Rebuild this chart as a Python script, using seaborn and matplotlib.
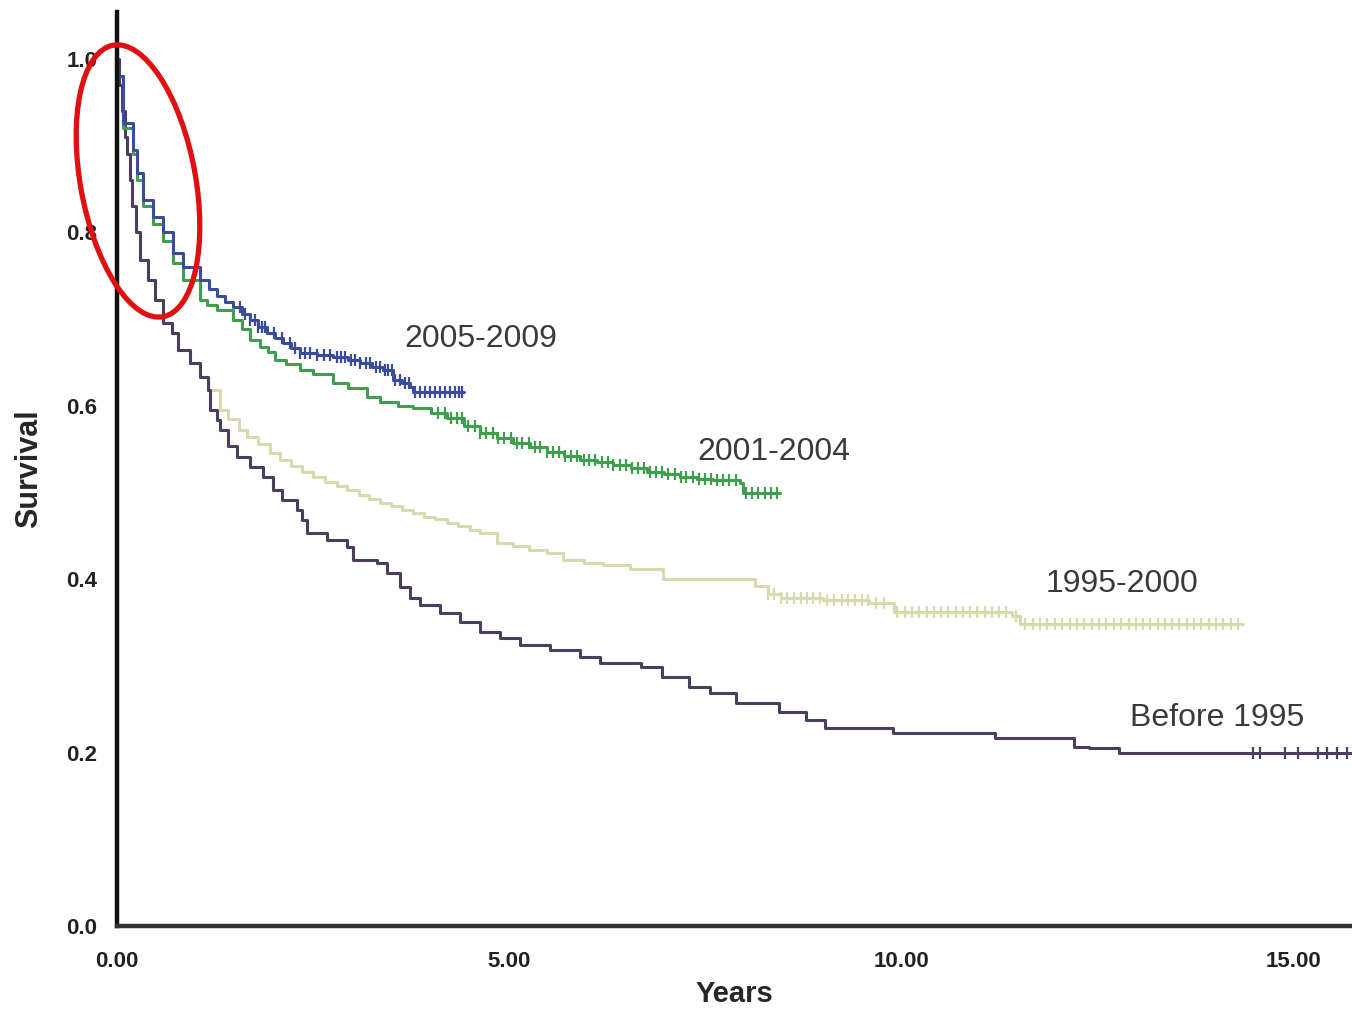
import numpy as np
import pandas as pd
import matplotlib
matplotlib.use("Agg")
import matplotlib.pyplot as plt
from matplotlib.patches import Ellipse
import seaborn as sns

# Kaplan-Meier step curves: event times (years) and survival after each step
before95_t = [0, 0.03, 0.06, 0.10, 0.13, 0.16, 0.19, 0.24, 0.29, 0.40,
              0.48, 0.59, 0.70, 0.78, 0.93, 1.06, 1.16, 1.19, 1.28, 1.31,
              1.42, 1.53, 1.70, 1.86, 1.99, 2.10, 2.30, 2.36, 2.42, 2.68,
              2.93, 3.01, 3.32, 3.44, 3.61, 3.74, 3.86, 4.12, 4.38, 4.63,
              4.89, 5.14, 5.52, 5.91, 6.16, 6.68, 6.95, 7.30, 7.56, 7.90,
              8.44, 8.79, 9.03, 9.89, 11.20, 12.20, 12.39, 12.78, 15.75]
before95_s = [1.0, 0.97, 0.94, 0.91, 0.89, 0.86, 0.83, 0.80, 0.768, 0.745,
              0.722, 0.695, 0.684, 0.664, 0.649, 0.633, 0.618, 0.595, 0.584, 0.572,
              0.553, 0.541, 0.529, 0.518, 0.503, 0.491, 0.480, 0.468, 0.453, 0.445,
              0.437, 0.422, 0.419, 0.407, 0.391, 0.378, 0.370, 0.361, 0.350, 0.339,
              0.332, 0.324, 0.318, 0.310, 0.303, 0.299, 0.287, 0.276, 0.269, 0.257,
              0.247, 0.238, 0.228, 0.223, 0.217, 0.206, 0.205, 0.200, 0.200]

p9500_t = [0, 0.03, 0.06, 0.10, 0.13, 0.16, 0.19, 0.24, 0.29, 0.40,
           0.48, 0.59, 0.70, 0.78, 0.93, 1.06, 1.16, 1.31, 1.42, 1.55,
           1.66, 1.80, 1.95, 2.08, 2.22, 2.36, 2.50, 2.65, 2.80, 2.93,
           3.08, 3.22, 3.35, 3.50, 3.64, 3.78, 3.92, 4.06, 4.21, 4.35,
           4.50, 4.63, 4.85, 5.05, 5.25, 5.48, 5.69, 5.95, 6.20, 6.54,
           6.96, 8.14, 8.30, 8.47, 9.00, 9.59, 9.91, 11.42, 11.52, 14.36]
p9500_s = [1.0, 0.97, 0.94, 0.91, 0.89, 0.86, 0.83, 0.80, 0.768, 0.745,
           0.722, 0.695, 0.684, 0.664, 0.649, 0.633, 0.618, 0.595, 0.585, 0.572,
           0.564, 0.556, 0.546, 0.537, 0.530, 0.524, 0.518, 0.512, 0.507, 0.503,
           0.497, 0.492, 0.488, 0.484, 0.480, 0.476, 0.472, 0.469, 0.465, 0.461,
           0.457, 0.453, 0.442, 0.438, 0.434, 0.430, 0.422, 0.419, 0.416, 0.412,
           0.400, 0.392, 0.383, 0.378, 0.376, 0.372, 0.362, 0.357, 0.348, 0.348]

p0104_t = [0, 0.01, 0.08, 0.20, 0.26, 0.33, 0.46, 0.59, 0.71, 0.84,
           1.06, 1.15, 1.28, 1.48, 1.60, 1.70, 1.82, 1.92, 2.02, 2.15,
           2.33, 2.50, 2.76, 2.95, 3.19, 3.35, 3.58, 3.78, 4.00, 4.21,
           4.42, 4.63, 4.84, 5.05, 5.27, 5.48, 5.70, 5.91, 6.12, 6.33,
           6.55, 6.76, 6.97, 7.18, 7.40, 7.60, 7.95, 7.98, 8.46]
p0104_s = [1.0, 0.98, 0.92, 0.89, 0.86, 0.83, 0.81, 0.79, 0.765, 0.745,
           0.722, 0.716, 0.710, 0.699, 0.688, 0.676, 0.668, 0.662, 0.653, 0.648,
           0.641, 0.636, 0.626, 0.620, 0.610, 0.604, 0.600, 0.597, 0.592, 0.586,
           0.577, 0.569, 0.563, 0.557, 0.552, 0.547, 0.542, 0.537, 0.535, 0.532,
           0.528, 0.524, 0.521, 0.518, 0.516, 0.514, 0.511, 0.499, 0.499]

p0509_t = [0, 0.01, 0.08, 0.20, 0.26, 0.33, 0.46, 0.59, 0.71, 0.84,
           1.06, 1.17, 1.28, 1.38, 1.48, 1.59, 1.70, 1.80, 1.91, 2.02,
           2.12, 2.22, 2.33, 2.55, 2.76, 2.95, 3.10, 3.25, 3.39, 3.52,
           3.63, 3.74, 3.78, 4.42]
p0509_s = [1.0, 0.98, 0.926, 0.895, 0.868, 0.837, 0.818, 0.800, 0.776, 0.760,
           0.745, 0.735, 0.726, 0.720, 0.714, 0.706, 0.699, 0.691, 0.684, 0.678,
           0.672, 0.666, 0.661, 0.658, 0.656, 0.653, 0.649, 0.645, 0.641, 0.630,
           0.626, 0.622, 0.616, 0.616]

# Censored observations (years)
before95_cens = [14.49, 14.58, 14.89, 15.06, 15.32, 15.43, 15.56, 15.68]
p9500_cens = [8.30, 8.38, 8.47, 8.55, 8.63, 8.72, 8.80, 8.88, 8.97, 9.06,
              9.15, 9.24, 9.32, 9.41, 9.50, 9.58, 9.68, 9.78, 9.95, 10.05,
              10.14, 10.23, 10.33, 10.42, 10.51, 10.60, 10.70, 10.79, 10.88, 10.97,
              11.07, 11.16, 11.25, 11.34, 11.46, 11.58, 11.68, 11.77, 11.86, 11.96,
              12.05, 12.15, 12.24, 12.33, 12.43, 12.52, 12.61, 12.71, 12.80, 12.90,
              12.99, 13.08, 13.18, 13.27, 13.37, 13.46, 13.55, 13.65, 13.74, 13.83,
              13.93, 14.02, 14.11, 14.21, 14.30]
p0104_cens = [4.10, 4.18, 4.26, 4.33, 4.40, 4.48, 4.56, 4.63, 4.71, 4.79,
              4.86, 4.94, 5.02, 5.10, 5.17, 5.25, 5.33, 5.40, 5.48, 5.56,
              5.64, 5.71, 5.79, 5.87, 5.95, 6.02, 6.10, 6.18, 6.26, 6.33,
              6.41, 6.49, 6.57, 6.64, 6.72, 6.80, 6.88, 6.95, 7.03, 7.11,
              7.19, 7.26, 7.34, 7.42, 7.50, 7.57, 7.65, 7.73, 7.81, 7.89,
              8.02, 8.10, 8.18, 8.26, 8.34, 8.42]
p0509_cens = [1.57, 1.63, 1.70, 1.76, 1.80, 1.85, 1.89, 2.00, 2.10, 2.21,
              2.27, 2.33, 2.40, 2.46, 2.55, 2.64, 2.72, 2.80, 2.86, 2.91,
              2.98, 3.04, 3.10, 3.17, 3.23, 3.30, 3.36, 3.42, 3.46, 3.51,
              3.55, 3.61, 3.67, 3.73, 3.80, 3.86, 3.93, 3.99, 4.06, 4.12,
              4.18, 4.25, 4.31, 4.36, 4.40]

periods = ["1995-2000", "Before 1995", "2001-2004", "2005-2009"]
colors = ["#d9d9ae", "#4b3d5e", "#3f9f4e", "#3c4c9c"]
curves = {
    "Before 1995": (before95_t, before95_s, before95_cens),
    "1995-2000": (p9500_t, p9500_s, p9500_cens),
    "2001-2004": (p0104_t, p0104_s, p0104_cens),
    "2005-2009": (p0509_t, p0509_s, p0509_cens),
}

rows = []
for name in periods:
    t, s, _ = curves[name]
    for ti, si in zip(t, s):
        rows.append({"Years": ti, "Survival": si, "period": name})
df = pd.DataFrame(rows)

sns.set_style("white")
plt.rcParams["font.family"] = ["Liberation Sans", "DejaVu Sans"]

fig = plt.figure(figsize=(13.52, 10.15), dpi=100)
ax = fig.add_axes([117 / 1352, 89 / 1015, 1235 / 1352, 914 / 1015])

palette = dict(zip(periods, colors))
sns.lineplot(data=df, x="Years", y="Survival", hue="period", palette=palette,
             hue_order=periods, estimator=None, sort=False,
             drawstyle="steps-post", linewidth=2.2, legend=False, ax=ax)

# censor ticks on each curve
for name in periods:
    t, s, cens = curves[name]
    idx = np.searchsorted(t, cens, side="right") - 1
    ys = np.asarray(s)[idx]
    ax.plot(cens, ys, ls="none", marker="|", markersize=8,
            markeredgewidth=1.6, color=palette[name])

# curve labels
label_pos = {"2005-2009": (3.67, 0.677), "2001-2004": (7.40, 0.547),
             "1995-2000": (11.84, 0.394), "Before 1995": (12.92, 0.240)}
for name, (x, y) in label_pos.items():
    ax.text(x, y, name, fontsize=23, color="#3a3a3a", va="center", ha="left")

ax.set_xlim(0, 15.75)
ax.set_ylim(0, 1.054)
ax.set_xticks([0, 5, 10, 15])
ax.set_xticklabels(["0.00", "5.00", "10.00", "15.00"])
ax.set_yticks([0, 0.2, 0.4, 0.6, 0.8, 1.0])
ax.set_yticklabels(["0.0", "0.2", "0.4", "0.6", "0.8", "1.0"])
ax.tick_params(axis="both", direction="out", length=8, width=1.5,
               colors="#222222", labelsize=16)
ax.tick_params(axis="x", pad=10)
ax.tick_params(axis="y", pad=6)
for lab in ax.get_xticklabels() + ax.get_yticklabels():
    lab.set_fontweight("bold")
ax.set_xlabel("Years", fontsize=21, fontweight="bold", labelpad=6)
ax.set_ylabel("Survival", fontsize=22, fontweight="bold", labelpad=16)

for side in ["top", "right"]:
    ax.spines[side].set_visible(False)
ax.spines["left"].set_linewidth(3.2)
ax.spines["left"].set_color("#111111")
ax.spines["bottom"].set_linewidth(3.2)
ax.spines["bottom"].set_color("#333333")

# red ellipse highlighting the early drop
ell = Ellipse((1.38, 8.34), width=2.76, height=1.15, angle=100.4,
              transform=fig.dpi_scale_trans, fill=False,
              edgecolor="#e01010", linewidth=3.8, zorder=10)
fig.patches.append(ell)

fig.savefig("out.png", dpi=100)
